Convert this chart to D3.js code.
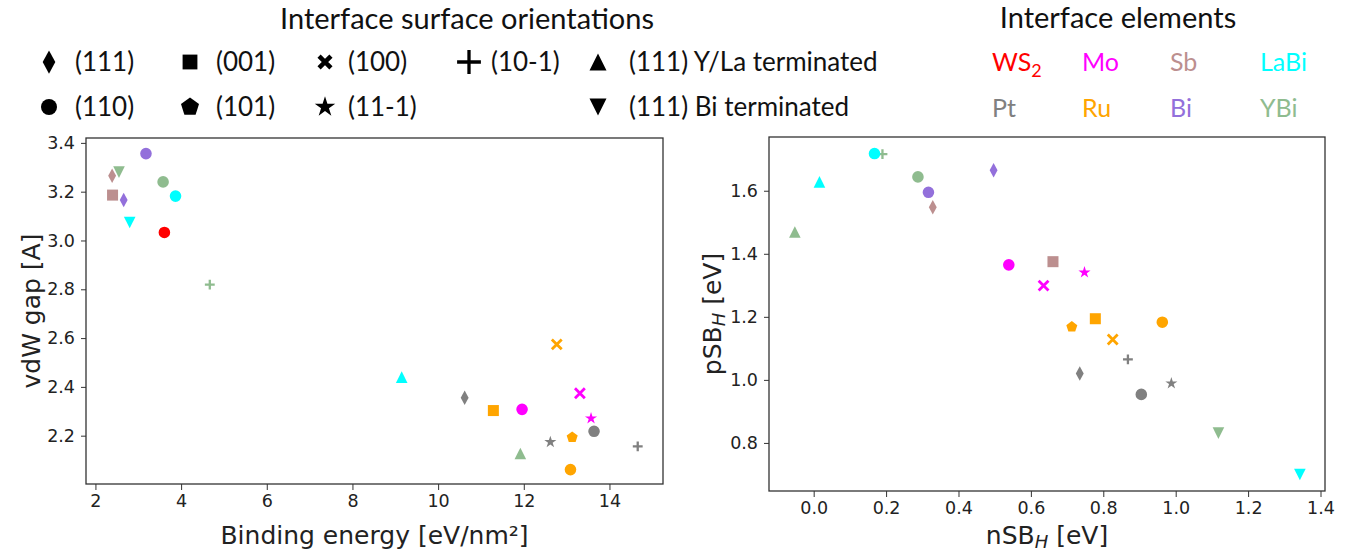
<!DOCTYPE html>
<html lang="en">
<head>
<meta charset="UTF-8">
<title>Interface scatter</title>
<script src="https://d3js.org/d3.v7.min.js"></script>
<style>
    body { margin: 0; background: #fff; }
    .axis text { font-family: "DejaVu Sans", sans-serif; font-size: 17.5px; fill: #222; }
    .axis path, .axis line { stroke: #333; }
    .alabel { font-family: "DejaVu Sans", sans-serif; font-size: 25px; fill: #222; }
    .leg { font-family: Lato, "Open Sans", sans-serif; fill: #111; }
</style>
</head>
<body>
<svg width="1348" height="555"></svg>
<script>
    // one entry per interface
    const element = ["WS2", "Bi", "Bi", "Sb", "Sb", "YBi", "YBi", "YBi", "YBi", "LaBi", "LaBi", "LaBi",
        "Mo", "Mo", "Mo", "Ru", "Ru", "Ru", "Ru", "Pt", "Pt", "Pt", "Pt"];
    const facet = ["(110)", "(110)", "(111)", "(111)", "(001)", "(111) Bi terminated", "(110)", "(10-1)",
        "(111) Y/La terminated", "(110)", "(111) Bi terminated", "(111) Y/La terminated",
        "(110)", "(100)", "(11-1)", "(110)", "(001)", "(100)", "(101)", "(110)", "(111)", "(10-1)", "(11-1)"];
    const binding = [3.61, 3.18, 2.66, 2.39, 2.40, 2.55, 3.58, 4.67, 11.92, 3.87, 2.80, 9.15,
        11.96, 13.31, 13.57, 13.09, 11.29, 12.77, 13.13, 13.64, 10.62, 14.66, 12.62];
    const vdwGap = [3.033, 3.356, 3.166, 3.265, 3.186, 3.28, 3.24, 2.819, 2.127, 3.182, 3.074, 2.44,
        2.308, 2.374, 2.271, 2.061, 2.303, 2.574, 2.193, 2.218, 2.355, 2.156, 2.174];
    const nSB = [null, 0.317, 0.497, 0.329, 0.661, 1.118, 0.288, 0.19, -0.052, 0.168, 1.343, 0.016,
        0.539, 0.635, 0.748, 0.963, 0.778, 0.826, 0.713, 0.905, 0.735, 0.868, 0.988];
    const pSB = [null, 1.595, 1.665, 1.548, 1.375, 0.831, 1.644, 1.716, 1.469, 1.718, 0.700, 1.628,
        1.365, 1.299, 1.341, 1.183, 1.194, 1.128, 1.168, 0.954, 1.020, 1.065, 0.989];

    // legends
    const elementNames = ["WS2", "Mo", "Sb", "LaBi", "Pt", "Ru", "Bi", "YBi"];
    const facetRow1 = ["(111)", "(001)", "(100)", "(10-1)", "(111) Y/La terminated"];
    const facetRow2 = ["(110)", "(101)", "(11-1)", null, "(111) Bi terminated"];

    // ticks
    const bindTicks = [2, 4, 6, 8, 10, 12, 14];
    const vdwTicks = [2.2, 2.4, 2.6, 2.8, 3.0, 3.2, 3.4];
    const nsbTicks = [0.0, 0.2, 0.4, 0.6, 0.8, 1.0, 1.2, 1.4];
    const psbTicks = [0.8, 1.0, 1.2, 1.4, 1.6];

    const color = d3.scaleOrdinal(elementNames,
        ["#ff0000", "#ff00ff", "#bc8f8f", "#00ffff", "#808080", "#ffa500", "#9370db", "#8fbc8f"]);

    const svg = d3.select("svg");

    // marker path for a facet, r = half size
    function marker(f, r) {
        const p = d3.path();
        if (f === "(110)") { p.arc(0, 0, r, 0, 2 * Math.PI); }
        else if (f === "(111)") { p.moveTo(0, -r * 1.25); p.lineTo(r * 0.68, 0); p.lineTo(0, r * 1.25); p.lineTo(-r * 0.68, 0); p.closePath(); }
        else if (f === "(001)") { p.rect(-r * 0.95, -r * 0.95, r * 1.9, r * 1.9); }
        else if (f === "(111) Y/La terminated") { p.moveTo(0, -r); p.lineTo(r, r); p.lineTo(-r, r); p.closePath(); }
        else if (f === "(111) Bi terminated") { p.moveTo(0, r); p.lineTo(r, -r); p.lineTo(-r, -r); p.closePath(); }
        else if (f === "(101)") {
            for (let i = 0; i < 5; i++) {
                const a = -Math.PI / 2 + i * 2 * Math.PI / 5;
                if (i === 0) p.moveTo(r * Math.cos(a), r * Math.sin(a)); else p.lineTo(r * Math.cos(a), r * Math.sin(a));
            }
            p.closePath();
        }
        else if (f === "(11-1)") {
            for (let i = 0; i < 10; i++) {
                const a = -Math.PI / 2 + i * Math.PI / 5, rr = i % 2 ? r * 0.42 : r * 1.1;
                if (i === 0) p.moveTo(rr * Math.cos(a), rr * Math.sin(a)); else p.lineTo(rr * Math.cos(a), rr * Math.sin(a));
            }
            p.closePath();
        }
        else if (f === "(100)") { const s = r * 0.85; p.moveTo(-s, -s); p.lineTo(s, s); p.moveTo(s, -s); p.lineTo(-s, s); }
        else if (f === "(10-1)") { const s = r * 0.85; p.moveTo(-s, 0); p.lineTo(s, 0); p.moveTo(0, -s); p.lineTo(0, s); }
        return p.toString();
    }
    const stroked = f => f === "(100)" || f === "(10-1)";

    function drawMarker(g, f, r, col, sw) {
        const m = g.append("path").attr("d", marker(f, r));
        if (stroked(f)) m.attr("fill", "none").attr("stroke", col).attr("stroke-width", sw);
        else m.attr("fill", col);
        return m;
    }

    // panels
    function panel(box, xDom, yDom, xTicks, yTicks, xFmt, yFmt, xs, ys) {
        const x = d3.scaleLinear().domain(xDom).range([box.l, box.r]);
        const y = d3.scaleLinear().domain(yDom).range([box.b, box.t]);
        const g = svg.append("g");
        const pts = g.append("g");
        d3.range(element.length).forEach(i => {
            if (xs[i] == null) return;
            const m = drawMarker(pts, facet[i], 5.8, color(element[i]), facet[i] === "(100)" ? 2.8 : 2.3);
            m.attr("transform", `translate(${x(xs[i])},${y(ys[i])})`);
        });
        g.append("rect").attr("x", box.l).attr("y", box.t)
            .attr("width", box.r - box.l).attr("height", box.b - box.t)
            .attr("fill", "none").attr("stroke", "#333").attr("stroke-width", 1.3);
        g.append("g").attr("class", "axis").attr("transform", `translate(0,${box.b})`)
            .call(d3.axisBottom(x).tickValues(xTicks).tickFormat(xFmt).tickSize(6).tickPadding(5).tickSizeOuter(0))
            .call(a => a.select(".domain").remove());
        g.append("g").attr("class", "axis").attr("transform", `translate(${box.l},0)`)
            .call(d3.axisLeft(y).tickValues(yTicks).tickFormat(yFmt).tickSize(5).tickPadding(6).tickSizeOuter(0))
            .call(a => a.select(".domain").remove());
        return g;
    }

    const left = {l: 86, r: 663, t: 138, b: 484};
    panel(left, [1.78, 15.25], [2.002, 3.42], bindTicks, vdwTicks, d3.format("d"), d3.format(".1f"), binding, vdwGap);

    const right = {l: 769, r: 1325, t: 137, b: 491};
    panel(right, [-0.1234, 1.4124], [0.6475, 1.7705], nsbTicks, psbTicks, d3.format(".1f"), d3.format(".1f"), nSB, pSB);

    // axis titles
    svg.append("text").attr("class", "alabel").attr("text-anchor", "middle")
        .attr("x", (left.l + left.r) / 2).attr("y", 544)
        .text("Binding energy [eV/nm²]");
    svg.append("text").attr("class", "alabel").attr("text-anchor", "middle")
        .attr("transform", `translate(40,${(left.t + left.b) / 2}) rotate(-90)`)
        .text("vdW gap [A]");

    const nl = svg.append("text").attr("class", "alabel").attr("text-anchor", "middle")
        .attr("x", (right.l + right.r) / 2).attr("y", 544);
    nl.append("tspan").text("nSB");
    nl.append("tspan").attr("font-style", "italic").attr("font-size", 18).attr("dy", 4).text("H");
    nl.append("tspan").attr("dy", -4).text(" [eV]");

    const pl = svg.append("text").attr("class", "alabel").attr("text-anchor", "middle")
        .attr("transform", `translate(721,${(right.t + right.b) / 2}) rotate(-90)`);
    pl.append("tspan").text("pSB");
    pl.append("tspan").attr("font-style", "italic").attr("font-size", 18).attr("dy", 4).text("H");
    pl.append("tspan").attr("dy", -4).text(" [eV]");

    // facet legend
    svg.append("text").attr("class", "leg").attr("font-size", 29).attr("text-anchor", "middle")
        .attr("x", 467).attr("y", 29).text("Interface surface orientations");
    const colX = [49, 190, 325, 469, 598];
    const textX = [75, 216, 348, 491, 629];
    const legSize = {"(110)": 8, "(111)": 9.3, "(001)": 7.8, "(100)": 7, "(10-1)": 14,
        "(111) Y/La terminated": 8.5, "(111) Bi terminated": 8.5, "(101)": 9.5, "(11-1)": 9.8};
    [[facetRow1, 62], [facetRow2, 107]].forEach(([row, cy]) => {
        row.forEach((f, j) => {
            if (!f) return;
            drawMarker(svg, f, legSize[f], "#000", f === "(100)" ? 4.5 : 3.3)
                .attr("transform", `translate(${colX[j]},${cy})`);
            svg.append("text").attr("class", "leg").attr("font-size", 26)
                .attr("x", textX[j]).attr("y", cy + 9).text(f);
        });
    });

    // element legend
    svg.append("text").attr("class", "leg").attr("font-size", 29).attr("text-anchor", "middle")
        .attr("x", 1118).attr("y", 28).text("Interface elements");
    const elX = [992, 1082, 1170, 1260];
    elementNames.forEach((e, i) => {
        const t = svg.append("text").attr("class", "leg").attr("font-size", 25)
            .attr("x", elX[i % 4]).attr("y", i < 4 ? 71 : 117).style("fill", color(e));
        if (e === "WS2") {
            t.append("tspan").text("WS");
            t.append("tspan").attr("font-size", 18).attr("dy", 6).text("2");
        } else t.text(e);
    });
</script>
</body>
</html>
